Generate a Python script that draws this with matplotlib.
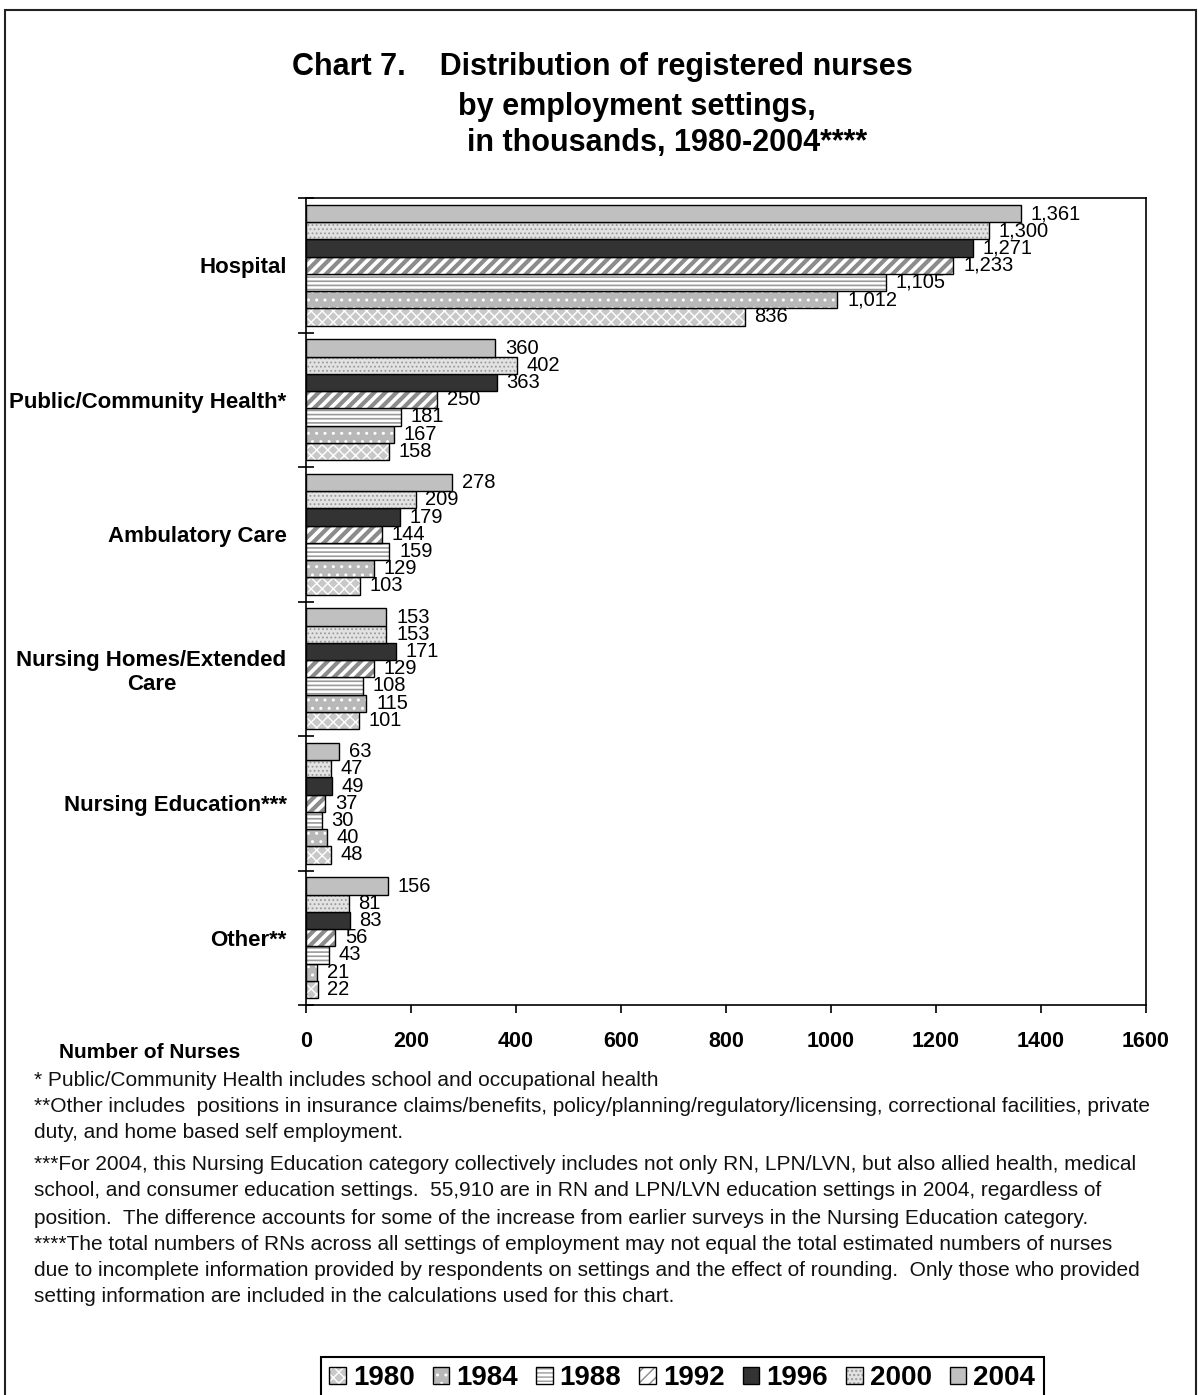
import matplotlib
matplotlib.use('Agg')
import matplotlib.pyplot as plt
import numpy as np
from matplotlib.patches import Rectangle
from matplotlib.legend_handler import HandlerTuple

plt.rcParams['font.family'] = ['Liberation Sans', 'DejaVu Sans']
plt.rcParams['hatch.linewidth'] = 1.0

# data (thousands of RNs), categories top to bottom
categories = ['Hospital', 'Public/Community Health*', 'Ambulatory Care',
              'Nursing Homes/Extended\nCare', 'Nursing Education***', 'Other**']
years = ['1980', '1984', '1988', '1992', '1996', '2000', '2004']
v1980 = [836, 158, 103, 101, 48, 22]
v1984 = [1012, 167, 129, 115, 40, 21]
v1988 = [1105, 181, 159, 108, 30, 43]
v1992 = [1233, 250, 144, 129, 37, 56]
v1996 = [1271, 363, 179, 171, 49, 83]
v2000 = [1300, 402, 209, 153, 47, 81]
v2004 = [1361, 360, 278, 153, 63, 156]
series = [v1980, v1984, v1988, v1992, v1996, v2000, v2004]

# facecolor, hatch, hatch colour, hatch linewidth
styles = {
    '1980': ('#c8c8c8', 'xxx', '#ffffff', 1.0),
    '1984': ('#b8b8b8', '..', '#ffffff', 1.0),
    '1988': ('#ffffff', '----', '#9a9a9a', 1.2),
    '1992': ('#ffffff', '///', '#8c8c8c', 3.0),
    '1996': ('#333333', '', '#333333', 1.0),
    '2000': ('#e2e2e2', '....', '#9a9a9a', 0.8),
    '2004': ('#c0c0c0', '', '#c0c0c0', 1.0),
}

W, H = 1199, 1395
fig = plt.figure(figsize=(W / 100, H / 100), dpi=100)
ax = fig.add_axes([306 / W, 1 - 1005 / H, 840 / W, 807 / H])

y = np.arange(len(categories))
h = 0.128
handles = []
for k, (yr, vals) in enumerate(zip(years, series)):
    fc, hatch, hc, hlw = styles[yr]
    pos = y + (3 - k) * h
    fill = ax.barh(pos, vals, height=h, color=fc, edgecolor=hc, hatch=hatch, linewidth=0)
    for p in fill:
        if hasattr(p, 'set_hatch_linewidth'):
            p.set_hatch_linewidth(hlw)
    edge = ax.barh(pos, vals, height=h, fill=False, edgecolor='black', linewidth=1.0)
    ax.bar_label(edge, labels=[f'{v:,}' for v in vals], padding=7, fontsize=14.5)
    handles.append((fill, edge))

ax.set_xlim(0, 1600)
ax.set_ylim(5.5, -0.5)
ax.set_xticks(range(0, 1601, 200))
ax.set_yticks(np.arange(-0.5, 6, 1))
ax.set_yticklabels([])
ax.set_yticks(y, minor=True)
ax.set_yticklabels(categories, minor=True, fontweight='bold', fontsize=16,
                   multialignment='center')
ax.tick_params(axis='y', which='major', direction='inout', length=11, width=1.2)
ax.tick_params(axis='y', which='minor', length=0, pad=14)
ax.tick_params(axis='x', direction='out', length=6, width=1.2, pad=13, labelsize=15.5)
for lbl in ax.get_xticklabels():
    lbl.set_fontweight('bold')
for s in ax.spines.values():
    s.set_linewidth(1.2)

# title
tkw = dict(fontsize=22, fontweight='bold', va='center', ha='left')
fig.text(292 / W, 1 - 67 / H, 'Chart 7.    Distribution of registered nurses', **tkw)
fig.text(458 / W, 1 - 107 / H, 'by employment settings,', **tkw)
fig.text(467 / W, 1 - 143 / H, 'in thousands, 1980-2004****', **tkw)

fig.text(59 / W, 1 - 1052 / H, 'Number of Nurses', fontsize=15, fontweight='bold', va='center')

notes = [
    '* Public/Community Health includes school and occupational health',
    '**Other includes  positions in insurance claims/benefits, policy/planning/regulatory/licensing, correctional facilities, private',
    'duty, and home based self employment.',
    '***For 2004, this Nursing Education category collectively includes not only RN, LPN/LVN, but also allied health, medical',
    'school, and consumer education settings.  55,910 are in RN and LPN/LVN education settings in 2004, regardless of',
    'position.  The difference accounts for some of the increase from earlier surveys in the Nursing Education category.',
    '****The total numbers of RNs across all settings of employment may not equal the total estimated numbers of nurses',
    'due to incomplete information provided by respondents on settings and the effect of rounding.  Only those who provided',
    'setting information are included in the calculations used for this chart.',
]
note_y = [1080, 1106, 1132, 1165, 1191, 1218, 1245, 1271, 1297]
for txt, ny in zip(notes, note_y):
    fig.text(34 / W, 1 - ny / H, txt, fontsize=15, va='center', color='#111111')

leg = fig.legend(handles, years, loc='upper left', bbox_to_anchor=(321 / W, 1 - 1357 / H),
                 ncol=7, prop={'weight': 'bold', 'size': 20}, handler_map={tuple: HandlerTuple()},
                 handlelength=0.6, handleheight=0.6, handletextpad=0.25, columnspacing=0.65,
                 borderpad=0.3, fancybox=False, framealpha=1, edgecolor='black', borderaxespad=0)
leg.get_frame().set_linewidth(1.5)

# outer border
fig.patches.append(Rectangle((5 / W, -0.02), 1191 / W, 1 - 10 / H + 0.02, transform=fig.transFigure,
                             fill=False, edgecolor='#222222', linewidth=1.5))

fig.savefig('out.png', dpi=100)
